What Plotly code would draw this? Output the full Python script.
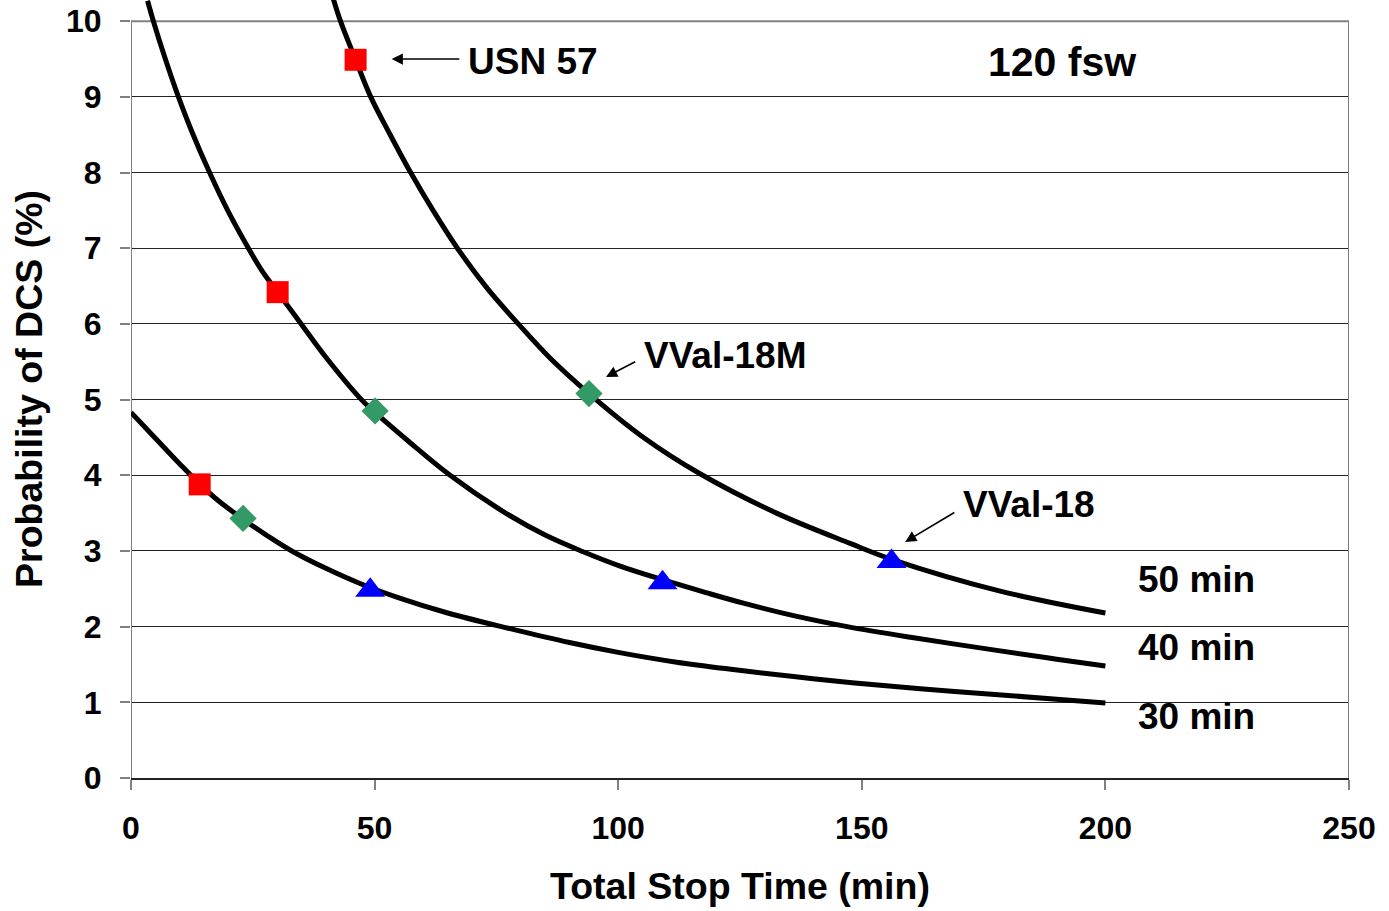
import plotly.graph_objects as go

# ---- data ----
c30_x = [0, 5, 10, 14, 18, 23, 28, 33, 40, 47, 55, 65, 78, 90, 100, 112, 124, 136, 148, 162, 178, 190, 200]
c30_y = [4.83, 4.49, 4.15, 3.89, 3.66, 3.42, 3.20, 3.00, 2.77, 2.57, 2.38, 2.18, 1.97, 1.79, 1.66, 1.53,
         1.43, 1.34, 1.26, 1.18, 1.10, 1.04, 0.99]

c40_x = [3.4, 4.6, 7, 9.4, 12.5, 16.2, 20, 24.1, 27, 30.1, 34.7, 40, 47.3, 50.1, 57.3, 65.5, 76.4, 85,
         92.8, 100.4, 109.1, 118, 125.7, 136, 147, 160, 178.4, 190, 200]
c40_y = [10.27, 10.0, 9.51, 9.06, 8.54, 7.99, 7.48, 7.0, 6.69, 6.42, 6.02, 5.56, 5.0, 4.83, 4.43, 4.0, 3.52,
         3.21, 2.99, 2.80, 2.62, 2.45, 2.31, 2.145, 2.0, 1.86, 1.68, 1.57, 1.48]

c50_x = [41.5, 43.0, 46.1, 49.2, 53.2, 57.4, 62, 67, 73, 79.5, 86, 94, 105.2, 116.8, 132.5, 147.6, 156.1,
         178.4, 200]
c50_y = [10.3, 10.0, 9.49, 9.0, 8.5, 8.0, 7.50, 7.0, 6.48, 6.0, 5.55, 5.08, 4.50, 4.02, 3.5, 3.10, 2.89,
         2.47, 2.18]

usn_x = [14.1, 30.1, 46.1]
usn_y = [3.88, 6.42, 9.49]
v18m_x = [23.0, 50.1, 94.0]
v18m_y = [3.43, 4.85, 5.08]
v18_x = [49.1, 109.1, 156.1]
v18_y = [2.48, 2.58, 2.86]

x_ticks = [0, 50, 100, 150, 200, 250]
y_ticks = list(range(0, 11))

FONT = "Arial, Liberation Sans, sans-serif"

fig = go.Figure()
for xs, ys, nm in [(c30_x, c30_y, "30 min"), (c40_x, c40_y, "40 min"), (c50_x, c50_y, "50 min")]:
    fig.add_trace(go.Scatter(x=xs, y=ys, mode="lines", name=nm,
                             line=dict(color="black", width=5, shape="spline", smoothing=1.0),
                             hoverinfo="skip"))

fig.add_trace(go.Scatter(x=usn_x, y=usn_y, mode="markers", name="USN 57",
                         marker=dict(symbol="square", size=22, color="#FF0000")))
fig.add_trace(go.Scatter(x=v18m_x, y=v18m_y, mode="markers", name="VVal-18M",
                         marker=dict(symbol="diamond", size=21, color="#339966")))
fig.add_trace(go.Scatter(x=v18_x, y=v18_y, mode="markers", name="VVal-18",
                         marker=dict(symbol="triangle-up", size=26, color="#0000FF")))

# plot-area border (left, top, right)
for x0, y0, x1, y1 in [(0, 0, 0, 10), (0, 10, 250, 10), (250, 0, 250, 10)]:
    fig.add_shape(type="line", x0=x0, y0=y0, x1=x1, y1=y1, xref="x", yref="y",
                  line=dict(color="#808080", width=2), layer="between")

# arrows
for hx, hy, tx, ty in [(53.5, 9.50, 67.7, 9.50), (97.5, 5.30, 103.8, 5.51), (158.9, 3.12, 169.3, 3.52)]:
    fig.add_annotation(x=hx, y=hy, ax=tx, ay=ty, xref="x", yref="y", axref="x", ayref="y",
                       text="", showarrow=True, arrowhead=2, arrowsize=1.4, arrowwidth=1.6,
                       arrowcolor="black")

labels = [("USN 57", 68.8, 9.47, 37), ("VVal-18M", 104.8, 5.58, 37), ("VVal-18", 170.4, 3.61, 37),
          ("50 min", 206.2, 2.62, 37), ("40 min", 206.2, 1.72, 37), ("30 min", 206.2, 0.81, 37),
          ("120 fsw", 175.5, 9.46, 41)]
for t, x, y, s in labels:
    fig.add_annotation(x=x, y=y, xref="x", yref="y", text=t, showarrow=False,
                       xanchor="left", yanchor="middle",
                       font=dict(family=FONT, size=s, color="black", weight="bold"))

fig.update_layout(
    width=1389, height=911,
    margin=dict(l=131, r=40, t=0, b=133),
    paper_bgcolor="white", plot_bgcolor="white",
    showlegend=False,
    font=dict(family=FONT, color="black"),
)
fig.update_xaxes(range=[0, 250], tickvals=x_ticks, ticks="outside", ticklen=10, tickwidth=2,
                 tickcolor="#808080", showline=True, linecolor="#222222", linewidth=2,
                 showgrid=False, zeroline=False,
                 tickfont=dict(family=FONT, size=32, color="black", weight="bold"),
                 ticklabelstandoff=11,
                 title=dict(text="Total Stop Time (min)", standoff=27,
                            font=dict(family=FONT, size=37.5, color="black", weight="bold")))
fig.update_yaxes(range=[0, 10.28], tickvals=y_ticks, ticks="outside", ticklen=10, tickwidth=2,
                 tickcolor="#808080", showline=False, showgrid=True, gridcolor="#222222",
                 gridwidth=1, zeroline=False,
                 tickfont=dict(family=FONT, size=32, color="black", weight="bold"),
                 ticklabelstandoff=12,
                 title=dict(text="Probability of DCS (%)", standoff=11,
                            font=dict(family=FONT, size=37.5, color="black", weight="bold")))

fig.write_html("out.html")
